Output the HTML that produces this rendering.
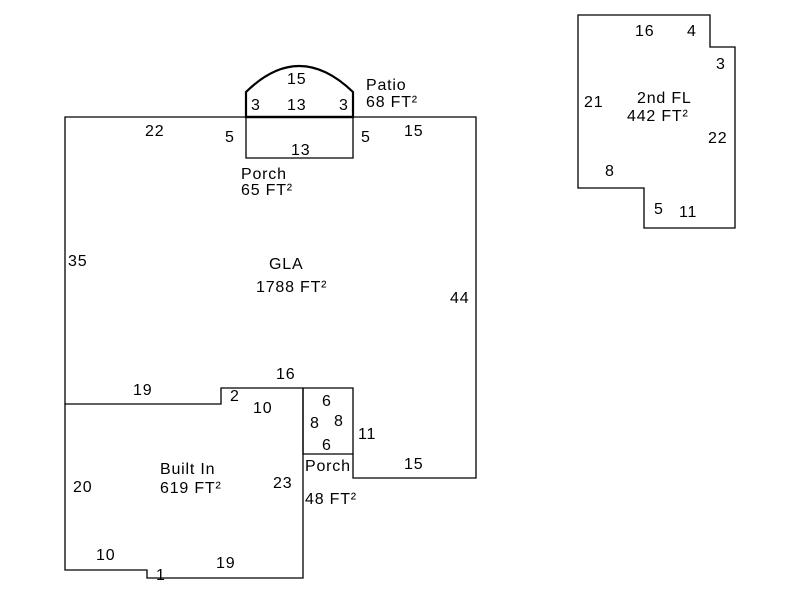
<!DOCTYPE html>
<html><head><style>
body{margin:0;background:#fff}
svg text{font-family:"Liberation Sans",Arial,sans-serif;font-size:16px;letter-spacing:0.8px;fill:#000}
</style></head><body>
<svg width="800" height="600" viewBox="0 0 800 600" xmlns="http://www.w3.org/2000/svg">
<g fill="none" stroke="#000" stroke-width="1.3">
<path d="M65,117 H476 V478 H353 V388 H221 V404 H65 Z"/>
<path d="M65,404 V570 H147 V578 H303 V388"/>
<path d="M303,388 V454 H353"/>
<path d="M246,117 V158 H353 V117"/>
<path d="M246,117 V92 Q299,40 353,92 V117 Z" stroke-width="2.2"/>
<path d="M246,117 H353" stroke-width="2.2"/>
<path d="M578,15 H710 V47 H735 V228 H644 V188 H578 Z"/>
</g>
<text x="287" y="84">15</text>
<text x="251" y="110">3</text>
<text x="287" y="110">13</text>
<text x="339" y="110">3</text>
<text x="366" y="90">Patio</text>
<text x="366" y="107">68 FT²</text>
<text x="145" y="136">22</text>
<text x="225" y="142">5</text>
<text x="361" y="142">5</text>
<text x="404" y="136">15</text>
<text x="291" y="155">13</text>
<text x="241" y="179">Porch</text>
<text x="241" y="195">65 FT²</text>
<text x="68" y="266">35</text>
<text x="269" y="269">GLA</text>
<text x="256" y="292">1788 FT²</text>
<text x="450" y="303">44</text>
<text x="276" y="379">16</text>
<text x="133" y="395">19</text>
<text x="230" y="401">2</text>
<text x="253" y="413">10</text>
<text x="322" y="406">6</text>
<text x="310" y="428">8</text>
<text x="334" y="426">8</text>
<text x="358" y="439">11</text>
<text x="322" y="450">6</text>
<text x="305" y="471">Porch</text>
<text x="404" y="469">15</text>
<text x="160" y="474">Built In</text>
<text x="160" y="493">619 FT²</text>
<text x="73" y="492">20</text>
<text x="273" y="488">23</text>
<text x="305" y="504">48 FT²</text>
<text x="96" y="560">10</text>
<text x="156" y="580">1</text>
<text x="216" y="568">19</text>
<text x="635" y="36">16</text>
<text x="687" y="36">4</text>
<text x="716" y="69">3</text>
<text x="584" y="107">21</text>
<text x="637" y="103">2nd FL</text>
<text x="627" y="121">442 FT²</text>
<text x="708" y="143">22</text>
<text x="605" y="176">8</text>
<text x="654" y="214">5</text>
<text x="679" y="217">11</text>
</svg>
</body></html>
